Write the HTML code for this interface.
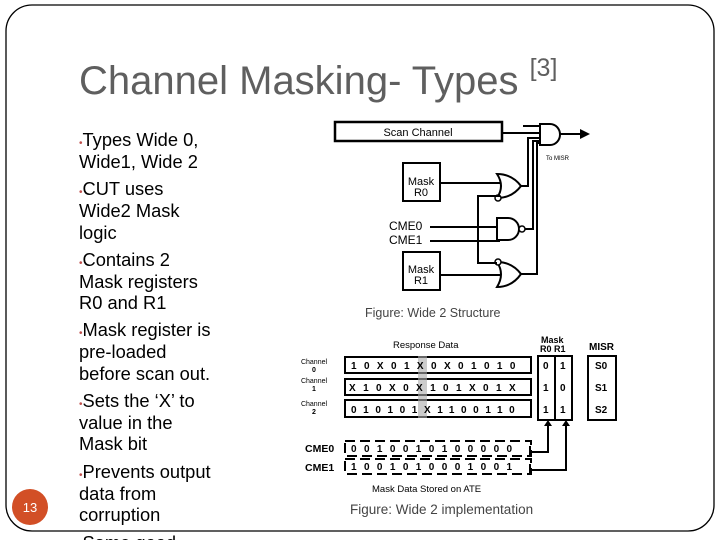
<!DOCTYPE html>
<html><head><meta charset="utf-8"><style>
html,body{margin:0;padding:0;background:#fff;width:720px;height:540px;overflow:hidden}
svg{display:block}
.t{font-family:"Liberation Sans",sans-serif}
</style></head><body>
<svg width="720" height="540" viewBox="0 0 720 540" xmlns="http://www.w3.org/2000/svg">
<rect x="6" y="5" width="708" height="526" rx="26" fill="#fff" stroke="#000" stroke-width="1.3"/>
<text class="t" x="79" y="94" font-size="40" fill="#5f5f5f">Channel Masking- Types <tspan font-size="25" dy="-18">[3]</tspan></text>
<g class="t" font-size="18.3" fill="#000">
<text x="79" y="146"><tspan fill="#c0504d" font-size="10">•</tspan>Types Wide 0,</text>
<text x="79" y="168">Wide1, Wide 2</text>
<text x="79" y="195"><tspan fill="#c0504d" font-size="10">•</tspan>CUT uses</text>
<text x="79" y="217">Wide2 Mask</text>
<text x="79" y="239">logic</text>
<text x="79" y="266"><tspan fill="#c0504d" font-size="10">•</tspan>Contains 2</text>
<text x="79" y="288">Mask registers</text>
<text x="79" y="309">R0 and R1</text>
<text x="79" y="336"><tspan fill="#c0504d" font-size="10">•</tspan>Mask register is</text>
<text x="79" y="358">pre-loaded</text>
<text x="79" y="380">before scan out.</text>
<text x="79" y="407"><tspan fill="#c0504d" font-size="10">•</tspan>Sets the ‘X’ to</text>
<text x="79" y="429">value in the</text>
<text x="79" y="450">Mask bit</text>
<text x="79" y="478"><tspan fill="#c0504d" font-size="10">•</tspan>Prevents output</text>
<text x="79" y="500">data from</text>
<text x="79" y="521">corruption</text>
<text x="79" y="549"><tspan fill="#c0504d" font-size="10">•</tspan>Same good</text>
</g>
<circle cx="30" cy="507" r="18" fill="#d24f26"/>
<text class="t" x="30" y="512" font-size="13" fill="#fff" text-anchor="middle">13</text>

<!-- top diagram -->
<g stroke="#000" stroke-width="2" fill="none">
<rect x="335" y="122" width="167" height="19" stroke-width="2.5"/>
<path d="M502 133 H540"/>
<path d="M540 124 H550 A10 10.5 0 0 1 550 145 H540 Z" fill="#fff"/>
<path d="M560 134 H580"/>
<rect x="403" y="163" width="37" height="38"/>
<rect x="403" y="252" width="37" height="38"/>
<path d="M440 183 H500"/>
<path d="M497 174 Q505 186 497 198 Q512 198 521 186 Q512 174 497 174 Z" fill="#fff"/>
<circle cx="498" cy="198" r="3" fill="#fff" stroke-width="1.5"/>
<path d="M521 186 H528 V138 H540"/>
<path d="M430 227 H500 M430 241 H500"/>
<path d="M497 218 H508 A11 11 0 0 1 508 240 H497 Z" fill="#fff"/>
<circle cx="522" cy="229" r="3" fill="#fff" stroke-width="1.5"/>
<path d="M525 229 H533 V141 H540"/>
<path d="M440 275 H500"/>
<path d="M497 262 Q505 274 497 287 Q512 287 521 274 Q512 262 497 262 Z" fill="#fff"/>
<circle cx="498" cy="262" r="3" fill="#fff" stroke-width="1.5"/>
<path d="M521 274 H537 V143 H540"/>
<path d="M500 196 H478 V263 H497"/>
<path d="M524 127 V126 H540"/>
</g>
<path d="M580 129 L590 134 L580 139 Z" fill="#000"/>
<g class="t" fill="#000">
<text x="418" y="136" font-size="11" text-anchor="middle">Scan Channel</text>
<text x="421" y="185" font-size="11" text-anchor="middle">Mask</text>
<text x="421" y="196" font-size="11" text-anchor="middle">R0</text>
<text x="421" y="273" font-size="11" text-anchor="middle">Mask</text>
<text x="421" y="284" font-size="11" text-anchor="middle">R1</text>
<text x="389" y="230" font-size="12">CME0</text>
<text x="389" y="244" font-size="12">CME1</text>
<text x="546" y="160" font-size="6">To MISR</text>
<text x="365" y="317" font-size="12.5" fill="#444">Figure: Wide 2 Structure</text>
</g>

<!-- bottom diagram -->
<g stroke="#000" stroke-width="2" fill="none">
<rect x="345" y="357" width="186" height="16"/>
<rect x="345" y="379" width="186" height="16"/>
<rect x="345" y="400" width="186" height="17"/>
<rect x="538" y="356" width="17" height="64"/>
<rect x="555" y="356" width="17" height="64"/>
<rect x="588" y="356" width="28" height="64"/>
<rect x="345" y="441" width="186" height="15" stroke-dasharray="10 5"/>
<rect x="345" y="459" width="186" height="15" stroke-dasharray="10 5"/>
<path d="M530 452 H548 V426 M530 470 H566 V426"/>
<path d="M530 446 V457 M530 464 V475"/>
</g>
<rect x="418" y="356" width="9" height="62" fill="#aaa" opacity="0.6"/>
<path d="M544 426 L548 420 L552 426 Z M562 426 L566 420 L570 426 Z" fill="#000"/>
<g class="t" fill="#000" font-weight="bold" font-size="10">
<text x="393" y="348" font-weight="normal" font-size="9.5">Response Data</text>
<text x="541" y="343" font-size="9">Mask</text>
<text x="540" y="352" font-size="9">R0 R1</text>
<text x="589" y="350">MISR</text>
<text x="314" y="364" text-anchor="middle" font-weight="normal" font-size="7">Channel</text><text x="314" y="372" text-anchor="middle" font-size="7">0</text>
<text x="314" y="383" text-anchor="middle" font-weight="normal" font-size="7">Channel</text><text x="314" y="391" text-anchor="middle" font-size="7">1</text>
<text x="314" y="406" text-anchor="middle" font-weight="normal" font-size="7">Channel</text><text x="314" y="414" text-anchor="middle" font-size="7">2</text>
<text x="351" y="369" letter-spacing="7.4">10X01X0X01010</text>
<text x="349" y="391" letter-spacing="7.4">X10X0X101X01X</text>
<text x="351" y="413" letter-spacing="6.6">010101X1100110</text>
<text x="543" y="369">0</text><text x="560" y="369">1</text>
<text x="543" y="391">1</text><text x="560" y="391">0</text>
<text x="543" y="413">1</text><text x="560" y="413">1</text>
<text x="595" y="369">S0</text><text x="595" y="391">S1</text><text x="595" y="413">S2</text>
<text x="305" y="452" font-size="10.5">CME0</text>
<text x="305" y="471" font-size="10.5">CME1</text>
<text x="351" y="452" letter-spacing="7.4">0010010100000</text>
<text x="351" y="470" letter-spacing="7.4">1001010001001</text>
<text x="372" y="492" font-weight="normal" font-size="9.5">Mask Data Stored on ATE</text>
</g>
<text class="t" x="350" y="514" font-size="13.5" fill="#444">Figure: Wide 2 implementation</text>
</svg>
</body></html>
